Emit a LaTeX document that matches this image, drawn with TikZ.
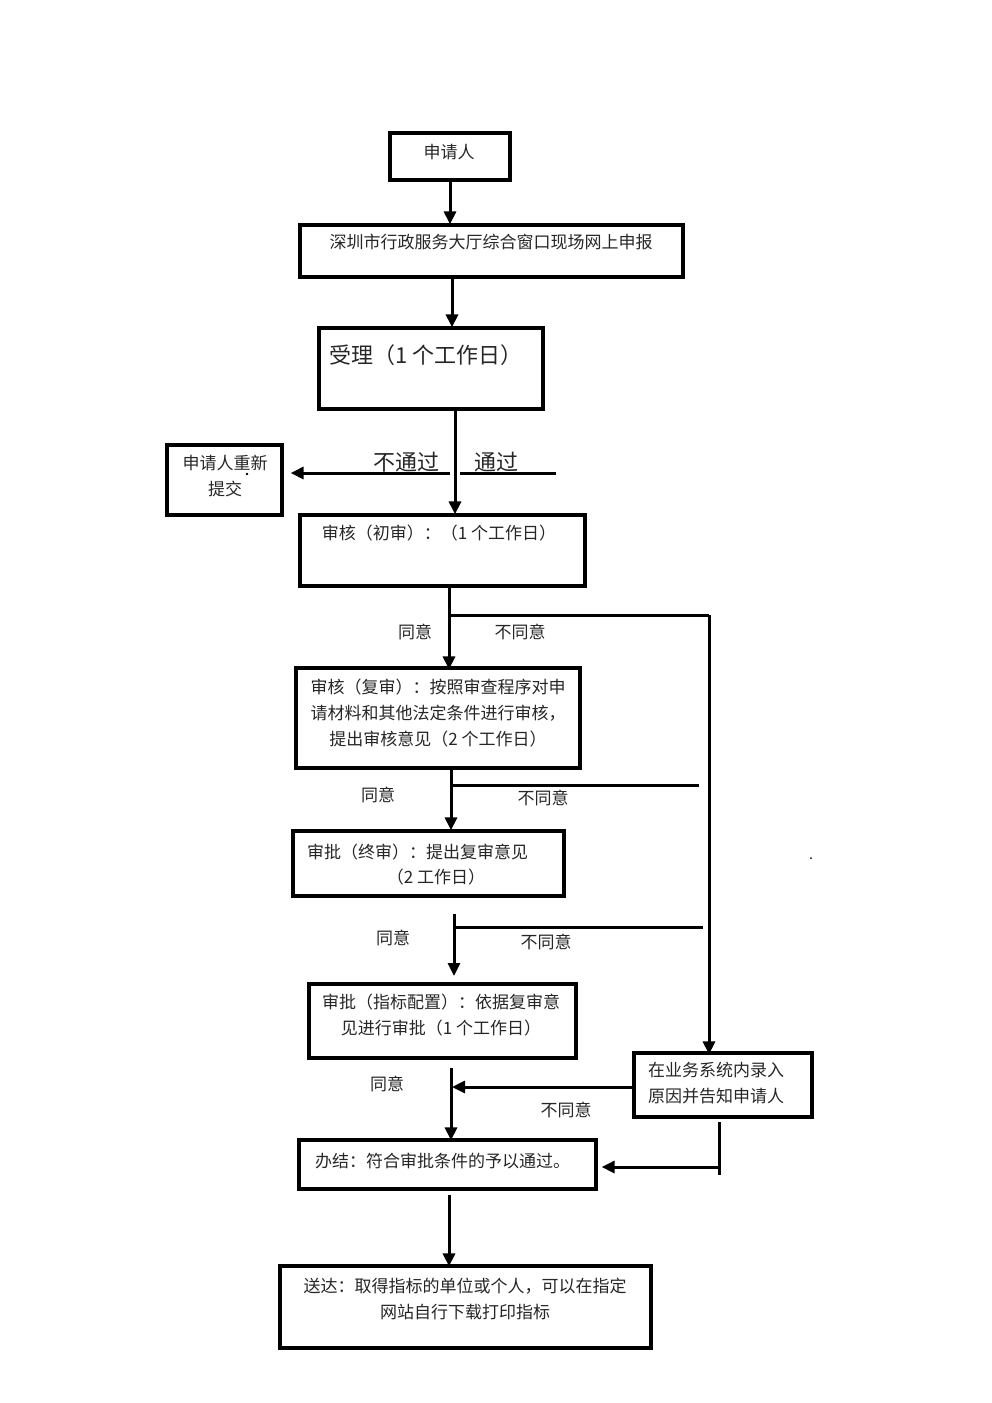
\documentclass[tikz,border=0pt]{standalone}
\usepackage{fontspec}
\setmainfont{Noto Sans CJK SC}
\usetikzlibrary{arrows.meta}
\tikzset{
  box/.style={draw, line width=3.2pt, inner sep=0pt, rectangle},
  txt/.style={inner sep=0pt, font=\fontsize{17}{26}\selectfont, text=black!85},
  bigtxt/.style={inner sep=0pt, font=\fontsize{22}{26}\selectfont, text=black!85},
  conn/.style={line width=3pt},
  arr/.style={line width=3pt, -{Triangle[length=13pt,width=12pt]}},
}
\begin{document}
\begin{tikzpicture}[x=1pt,y=-1pt]
\useasboundingbox (0,0) rectangle (992,1403);
% boxes
\node[box, minimum width=120, minimum height=47] (b1) at (450,156.5) {};
\node[box, minimum width=383, minimum height=52] (b2) at (491.5,251) {};
\node[box, minimum width=224, minimum height=81] (b3) at (431,368.5) {};
\node[box, minimum width=115, minimum height=70] (b4) at (224.5,480) {};
\node[box, minimum width=285, minimum height=71] (b5) at (442.5,550.5) {};
\node[box, minimum width=284, minimum height=100] (b6) at (438,718) {};
\node[box, minimum width=271, minimum height=65] (b7) at (428.5,863.5) {};
\node[box, minimum width=267, minimum height=74] (b8) at (442.5,1021) {};
\node[box, minimum width=178, minimum height=64] (b9) at (723,1085) {};
\node[box, minimum width=297, minimum height=49] (b10) at (447.5,1164.5) {};
\node[box, minimum width=371, minimum height=82] (b11) at (465.5,1307) {};
% texts
\node[txt] (t1) at (449,152) {申请人};
\node[txt] (t2) at (491,242) {深圳市行政服务大厅综合窗口现场网上申报};
\node[bigtxt, anchor=west] (t3) at (329,355) {受理（1 个工作日）};
\node[txt, align=center] (t4) at (225,476.5) {申请人重新\\提交};
\node[txt] (t5) at (439,533) {审核（初审）：（1 个工作日）};
\node[txt, align=center] (t6) at (438,713) {审核（复审）：按照审查程序对申\\请材料和其他法定条件进行审核，\\提出审核意见（2 个工作日）};
\node[txt, anchor=west] (t7a) at (307,852) {审批（终审）：提出复审意见};
\node[txt] (t7b) at (436,877) {（2 工作日）};
\node[txt, align=center] (t8) at (441,1015.5) {审批（指标配置）：依据复审意\\见进行审批（1 个工作日）};
\node[txt, align=left, anchor=west] (t9) at (648,1083.5) {在业务系统内录入\\原因并告知申请人};
\node[txt, anchor=west] (t10) at (315,1161) {办结：符合审批条件的予以通过。};
\node[txt, align=center] (t11) at (465,1299) {送达：取得指标的单位或个人，可以在指定\\网站自行下载打印指标};
% labels
\node[bigtxt] (l1) at (406,462) {不通过};
\node[bigtxt] (l2) at (496,462) {通过};
\node[txt] (l3) at (415,632) {同意};
\node[txt] (l4) at (520,632) {不同意};
\node[txt] (l5) at (378,795) {同意};
\node[txt] (l6) at (543,798) {不同意};
\node[txt] (l7) at (393,938) {同意};
\node[txt] (l8) at (546,942) {不同意};
\node[txt] (l9) at (387,1084) {同意};
\node[txt] (l10) at (566,1110) {不同意};
% helper coordinates
\coordinate (x1) at (450,0);
\coordinate (x2) at (452,0);
\coordinate (x3) at (455,0);
\coordinate (x5) at (449,0);
\coordinate (x6) at (451,0);
\coordinate (xr) at (709,0);
\coordinate (nt) at (450,473);
\coordinate (pt) at (460,473);
\coordinate (pe) at (556,473);
\coordinate (j5) at (449,615);
\coordinate (j6) at (451,785);
\coordinate (e6) at (699,785);
\coordinate (s7) at (454,914);
\coordinate (e7t) at (454,976);
\coordinate (j7) at (456,927);
\coordinate (e7) at (703,927);
\coordinate (s8) at (451,1068);
\coordinate (r9) at (452,1087);
\coordinate (v9a) at (719,1122);
\coordinate (v9b) at (719,1175);
\coordinate (h9) at (719,1167);
\coordinate (s10) at (449,1195);
% connectors
\draw[arr] (b1.south -| x1) -- ([yshift=-1]b2.north -| x1);
\draw[arr] (b2.south -| x2) -- ([yshift=-1]b3.north -| x2);
\draw[arr] (b3.south -| x3) -- ([yshift=-1]b5.north -| x3);
\draw[arr] (nt) -- ([xshift=7]b4.east |- nt);
\draw[conn] (pt) -- (pe);
\draw[arr] (b5.south -| x5) -- ([yshift=-3]b6.north -| x5);
\draw[conn] (j5) -- (j5 -| xr);
\draw[arr] (j5 -| xr) -- ([yshift=-3]b9.north -| xr);
\draw[arr] (b6.south -| x6) -- ([yshift=-1]b7.north -| x6);
\draw[conn] (j6) -- (e6);
\draw[arr] (s7) -- (e7t);
\draw[conn] (j7) -- (e7);
\draw[arr] (s8) -- ([yshift=-2]b10.north -| s8);
\draw[arr] (b9.west |- r9) -- (r9);
\draw[conn] (v9a) -- (v9b);
\draw[arr] (h9) -- ([xshift=4]b10.east |- h9);
\draw[arr] (s10) -- ([yshift=-2]b11.north -| s10);
% stray dots
\fill (247,474) circle (1.4);
\fill (811,858) circle (1);
\end{tikzpicture}
\end{document}
